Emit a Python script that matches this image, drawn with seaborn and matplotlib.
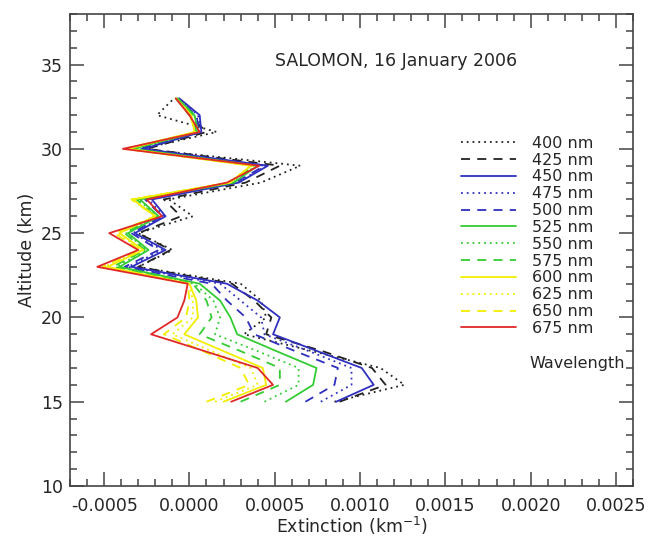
import matplotlib
matplotlib.use("Agg")
import matplotlib.pyplot as plt
import seaborn as sns
import pandas as pd
from matplotlib.ticker import MultipleLocator, FormatStrFormatter
from matplotlib.lines import Line2D

altitude = [15, 16, 17, 18, 19, 20, 21, 22, 23, 24, 25, 26, 27, 28, 29, 30, 31, 32, 33]

ext_400 = [0.00085, 0.00126, 0.00112, 0.00072, 0.00032, 0.00045, 0.00042, 0.0003, -0.0003, -0.0001, -0.0003, 0.00002, -0.00012, 0.00042, 0.00065, -0.00028, 0.00016, -0.00019, -0.00009]
ext_425 = [0.00088, 0.00115, 0.00107, 0.00078, 0.00045, 0.00048, 0.00038, 0.00025, -0.0003, -0.00011, -0.0003, -0.00005, -0.00015, 0.00033, 0.00053, -0.00025, 0.0001, 0.0, -0.00008]
ext_450 = [0.00086, 0.00108, 0.00101, 0.00075, 0.00049, 0.00053, 0.0004, 0.00022, -0.00034, -0.00014, -0.00032, -0.00014, -0.00022, 0.00029, 0.00046, -0.00027, 0.00007, 0.00006, -0.00006]
ext_475 = [0.00077, 0.00095, 0.00095, 0.0007, 0.00044, 0.00042, 0.0003, 0.00018, -0.00036, -0.00016, -0.00033, -0.00015, -0.00024, 0.00028, 0.00045, -0.00029, 0.00007, 0.00005, -0.00006]
ext_500 = [0.00068, 0.00085, 0.00087, 0.00062, 0.00038, 0.00033, 0.00022, 0.00013, -0.00038, -0.00018, -0.00034, -0.00016, -0.00026, 0.00027, 0.00044, -0.0003, 0.00006, 0.00004, -0.00007]
ext_525 = [0.000565, 0.000725, 0.000745, 0.00051, 0.00028, 0.00024, 0.00018, 0.00006, -0.00041, -0.00024, -0.00036, -0.00018, -0.00029, 0.00026, 0.0004, -0.00033, 0.00005, 0.00003, -0.00007]
ext_550 = [0.00044, 0.00064, 0.00064, 0.0004, 0.00015, 0.00018, 0.00014, 0.00003, -0.00043, -0.00025, -0.00037, -0.00019, -0.0003, 0.00025, 0.00039, -0.00034, 0.00004, 0.00003, -0.00007]
ext_575 = [0.0003, 0.00053, 0.00053, 0.0003, 0.00006, 0.00013, 0.0001, 0.00002, -0.00045, -0.00026, -0.00038, -0.0002, -0.00031, 0.00024, 0.00038, -0.00035, 0.00004, 0.00002, -0.00007]
ext_600 = [0.0002, 0.00045, 0.00043, 0.0002, -0.00003, 0.00005, 0.00004, 0.0, -0.00048, -0.00027, -0.00041, -0.0002, -0.00033, 0.00024, 0.00036, -0.00036, 0.00003, 0.00001, -0.00008]
ext_625 = [0.00015, 0.0004, 0.00036, 0.00013, -0.0001, 0.00002, 0.00002, 0.0, -0.0005, -0.00028, -0.00042, -0.0002, -0.00034, 0.00023, 0.00036, -0.00037, 0.00003, 0.00001, -0.00008]
ext_650 = [0.0001, 0.00035, 0.0003, 0.00008, -0.00015, -0.00002, 0.0, -0.00001, -0.00051, -0.00029, -0.00044, -0.0002, -0.00034, 0.00023, 0.00037, -0.00038, 0.00004, 0.0, -0.00008]
ext_675 = [0.000245, 0.00049, 0.0004, 0.00009, -0.000225, -0.00007, -0.00003, -0.00001, -0.00054, -0.0003, -0.00047, -0.00016, -0.00025, 0.00022, 0.00041, -0.00039, 0.00006, 0.0, -0.00008]

wavelengths = [400, 425, 450, 475, 500, 525, 550, 575, 600, 625, 650, 675]
series = [ext_400, ext_425, ext_450, ext_475, ext_500, ext_525, ext_550, ext_575, ext_600, ext_625, ext_650, ext_675]

colors = ["#222222", "#222222", "#2f2fc0", "#2f2fc0", "#2f2fc0",
          "#33cc33", "#33cc33", "#33cc33", "#f2ee00", "#f2ee00", "#f2ee00", "#e02828"]
dot = (0, (1, 2.2))
dash = (0, (5, 4))
styles = [dot, dash, "-", dot, dash, "-", dot, dash, "-", dot, dash, "-"]

sns.set_style("ticks")
plt.rcParams["font.family"] = ["DejaVu Sans"]

fig = plt.figure(figsize=(6.5, 5.38), dpi=100)
ax = fig.add_axes([70 / 650, 1 - 486 / 538, 563 / 650, 472 / 538])

handles = []
for wl, vals, c, ls in zip(wavelengths, series, colors, styles):
    df = pd.DataFrame({"alt": altitude, "ext": vals})
    sns.lineplot(data=df, x="ext", y="alt", sort=False, estimator=None,
                 color=c, linestyle=ls, linewidth=1.3, ax=ax, legend=False)
    handles.append(Line2D([], [], color=c, linestyle=ls, linewidth=1.3))

ax.set_xlim(-0.0007, 0.0026)
ax.set_ylim(10, 38)
ax.xaxis.set_major_locator(MultipleLocator(0.0005))
ax.xaxis.set_minor_locator(MultipleLocator(0.0001))
ax.yaxis.set_major_locator(MultipleLocator(5))
ax.yaxis.set_minor_locator(MultipleLocator(1))
ax.xaxis.set_major_formatter(FormatStrFormatter("%.4f"))
ax.tick_params(which="both", direction="in", top=True, right=True, labelsize=12.5,
               color="#444444", width=1.1)
ax.tick_params(which="major", length=10)
ax.tick_params(which="minor", length=5)
ax.tick_params(axis="x", which="major", pad=8)
ax.tick_params(axis="y", which="major", pad=5)
for s in ax.spines.values():
    s.set_color("#444444")
    s.set_linewidth(1.2)

ax.set_xlabel("Extinction (km$^{-1}$)", fontsize=12.5, labelpad=0)
ax.set_ylabel("Altitude (km)", fontsize=12.5, labelpad=4)

ax.text(0.00121, 35.2, "SALOMON, 16 January 2006", fontsize=12.5, ha="center", va="center")

leg = ax.legend(handles, [f"{w} nm" for w in wavelengths], loc="upper left",
                bbox_to_anchor=(0.695, 0.742), frameon=False, fontsize=11.5,
                handlelength=3.4, handletextpad=1.0, labelspacing=0.115,
                borderaxespad=0, borderpad=0)
ax.text(0.816, 0.26, "Wavelength", transform=ax.transAxes, fontsize=11.5,
        ha="left", va="center")

fig.savefig("out.png", dpi=100)
